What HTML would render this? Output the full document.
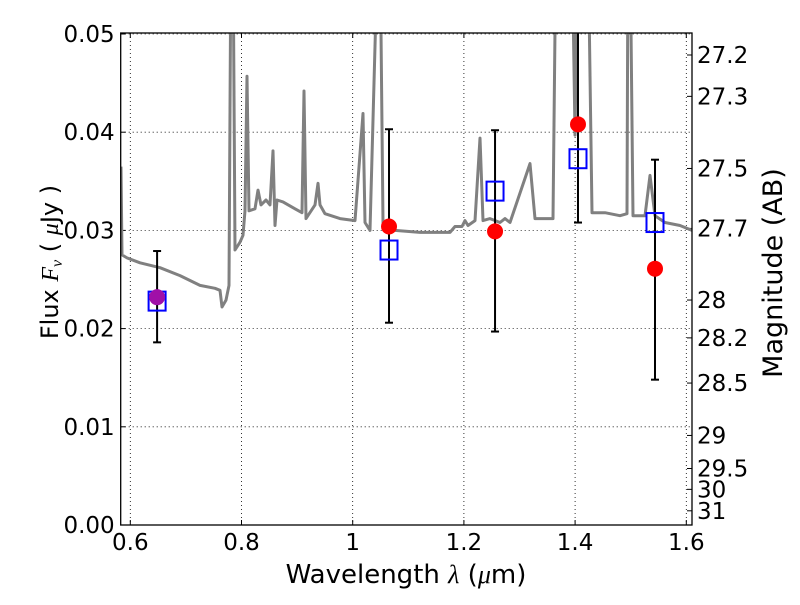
<!DOCTYPE html>
<html><head><meta charset="utf-8"><style>
body{margin:0;background:#fff}
svg{font-family:"DejaVu Sans","Liberation Sans",sans-serif}
</style></head><body>
<svg id="chart" width="800" height="600" xmlns="http://www.w3.org/2000/svg"></svg>
<script>
const specLam=[0.5833,0.5851,0.5941,0.6174,0.6534,0.6894,0.7253,0.7523,0.7613,0.7649,0.7721,0.7775,0.7811,0.7847,0.7883,0.7973,0.8027,0.8063,0.8099,0.8135,0.8243,0.8297,0.8351,0.8441,0.8513,0.8567,0.8603,0.8639,0.8747,0.8963,0.9088,0.9124,0.9160,0.9322,0.9376,0.9412,0.9502,0.9772,1.0041,1.0185,1.0221,1.0311,1.0455,1.0491,1.0545,1.0581,1.0761,1.1210,1.1750,1.1840,1.1966,1.2020,1.2074,1.2200,1.2290,1.2344,1.2470,1.2649,1.2739,1.2829,1.3189,1.3279,1.3603,1.3657,1.3944,1.3998,1.4052,1.4232,1.4304,1.4538,1.4808,1.4933,1.4951,1.4987,1.5041,1.5257,1.5347,1.5437,1.5617,1.5887,1.6102];
const specFlux=[0.0365,0.0275,0.0272,0.0267,0.0262,0.0254,0.0244,0.0241,0.0239,0.0222,0.0229,0.0244,0.06,0.06,0.0280,0.0288,0.0295,0.0320,0.0457,0.0320,0.0322,0.0341,0.0326,0.0331,0.0326,0.0381,0.0305,0.0331,0.0329,0.0322,0.0318,0.0442,0.0312,0.0326,0.0348,0.0326,0.0317,0.0312,0.0310,0.0419,0.0308,0.0300,0.06,0.06,0.0308,0.0302,0.0300,0.0298,0.0298,0.0304,0.0304,0.0310,0.0305,0.0310,0.0394,0.0310,0.0312,0.0308,0.0312,0.0308,0.0368,0.0312,0.0312,0.06,0.06,0.0397,0.06,0.06,0.0318,0.0318,0.0315,0.0317,0.06,0.06,0.0315,0.0315,0.0356,0.0315,0.0308,0.0305,0.0300];
const obsLam=[0.6482,1.0653,1.2560,1.4052,1.5437];
const obsFlux=[0.0232,0.0304,0.0299,0.0408,0.0261];
const errHi=[0.0279,0.0403,0.0402,0.0520,0.0372];
const errLo=[0.0186,0.0206,0.0197,0.0308,0.0148];
const modFlux=[0.0228,0.0280,0.0340,0.0373,0.0308];
const xTicks=[0.6,0.8,1.0,1.2,1.4,1.6];
const xTickLabels=["0.6","0.8","1","1.2","1.4","1.6"];
const yTicks=[0,0.01,0.02,0.03,0.04,0.05];
const yTickLabels=["0.00","0.01","0.02","0.03","0.04","0.05"];
const magTicks=[27.2,27.3,27.5,27.7,28,28.2,28.5,29,29.5,30,31];
const magLabels=["27.2","27.3","27.5","27.7","28","28.2","28.5","29","29.5","30","31"];

const L=120.7,R=692,T=33,B=525;
const X=v=>130.3+(v-0.6)*556;
const Y=v=>B-v*9820;
const svg=document.getElementById('chart');
const NS='http://www.w3.org/2000/svg';
function mk(tag,attrs,parent){const e=document.createElementNS(NS,tag);for(const k in attrs)e.setAttribute(k,attrs[k]);(parent||svg).appendChild(e);return e;}

const defs=mk('defs',{});const cp=mk('clipPath',{id:'clip'},defs);mk('rect',{x:L,y:T,width:R-L,height:B-T},cp);

xTicks.forEach((t,i)=>{const x=X(t);
 const g=mk('line',{x1:x,x2:x,y1:T,y2:B,stroke:'#000','stroke-width':0.8,'stroke-dasharray':'1,3'});
 
 mk('line',{x1:x,x2:x,y1:B,y2:B-5,stroke:'#000'});mk('line',{x1:x,x2:x,y1:T,y2:T+5,stroke:'#000'});
 const tx=mk('text',{x:x,y:B+25,'text-anchor':'middle','font-size':23});tx.textContent=xTickLabels[i];
 
});
yTicks.forEach((t,i)=>{const y=Y(t);
 const g=mk('line',{x1:L,x2:R,y1:y,y2:y,stroke:'#000','stroke-width':0.8,'stroke-dasharray':'1,3'});
 
 mk('line',{x1:L,x2:L+5,y1:y,y2:y,stroke:'#000'});
 const tx=mk('text',{x:L-6,y:y+8,'text-anchor':'end','font-size':23});tx.textContent=yTickLabels[i];
 
});
magTicks.forEach((m,i)=>{const f=Math.pow(10,(23.9-m)/2.5);const y=Y(f);
 mk('line',{x1:R-5,x2:R,y1:y,y2:y,stroke:'#000'});
 const tx=mk('text',{x:R+5,y:y+8,'font-size':23});tx.textContent=magLabels[i];
 
});

const gp=mk('g',{'clip-path':'url(#clip)'});
const d=specLam.map((l,i)=>(i?'L':'M')+X(l).toFixed(1)+','+Y(specFlux[i]).toFixed(1)).join('');
const sp=mk('path',{d:d,fill:'none',stroke:'#808080','stroke-width':3,'stroke-linejoin':'round'},gp);


obsLam.forEach((l,i)=>{const x=X(l);const y1=Y(Math.min(errHi[i],0.06)),y2=Y(errLo[i]);
 const e=mk('line',{x1:x,x2:x,y1:y1,y2:y2,stroke:'#000','stroke-width':2},gp);
 
 mk('line',{x1:x-4,x2:x+4,y1:y1,y2:y1,stroke:'#000','stroke-width':2},gp);
 mk('line',{x1:x-4,x2:x+4,y1:y2,y2:y2,stroke:'#000','stroke-width':2},gp);
});
obsLam.forEach((l,i)=>{const x=X(l),y=Y(modFlux[i]);
 const s=mk('rect',{x:x-8.5,y:y-9.5,width:17,height:19,fill:'none',stroke:'#0000ff','stroke-width':2},gp);
 
});
obsLam.forEach((l,i)=>{const x=X(l),y=Y(obsFlux[i]);
 const c=mk('circle',{cx:x,cy:y,r:8,fill:i===0?'#a010a8':'#ff0000'},gp);
 
});

const fr=mk('rect',{x:L,y:T,width:R-L,height:B-T,fill:'none',stroke:'#000','stroke-width':1.3});


let t=mk('text',{x:406,y:583,'text-anchor':'middle','font-size':26});
t.innerHTML='Wavelength  <tspan font-style="italic" font-family="Liberation Serif">λ</tspan> (<tspan font-style="italic" font-family="Liberation Serif">μ</tspan>m)';

t=mk('text',{x:0,y:0,'text-anchor':'middle','font-size':24,transform:'translate(58,262) rotate(-90)'});
t.innerHTML='Flux  <tspan font-style="italic" font-family="Liberation Serif">F</tspan><tspan font-style="italic" font-family="Liberation Serif" font-size="16" dy="4">ν</tspan><tspan dy="-4">  (  </tspan><tspan font-style="italic" font-family="Liberation Serif">μ</tspan>Jy )';

t=mk('text',{x:0,y:0,'text-anchor':'middle','font-size':27,transform:'translate(782,273) rotate(-90)'});
t.textContent='Magnitude (AB)';

</script>
</body></html>
